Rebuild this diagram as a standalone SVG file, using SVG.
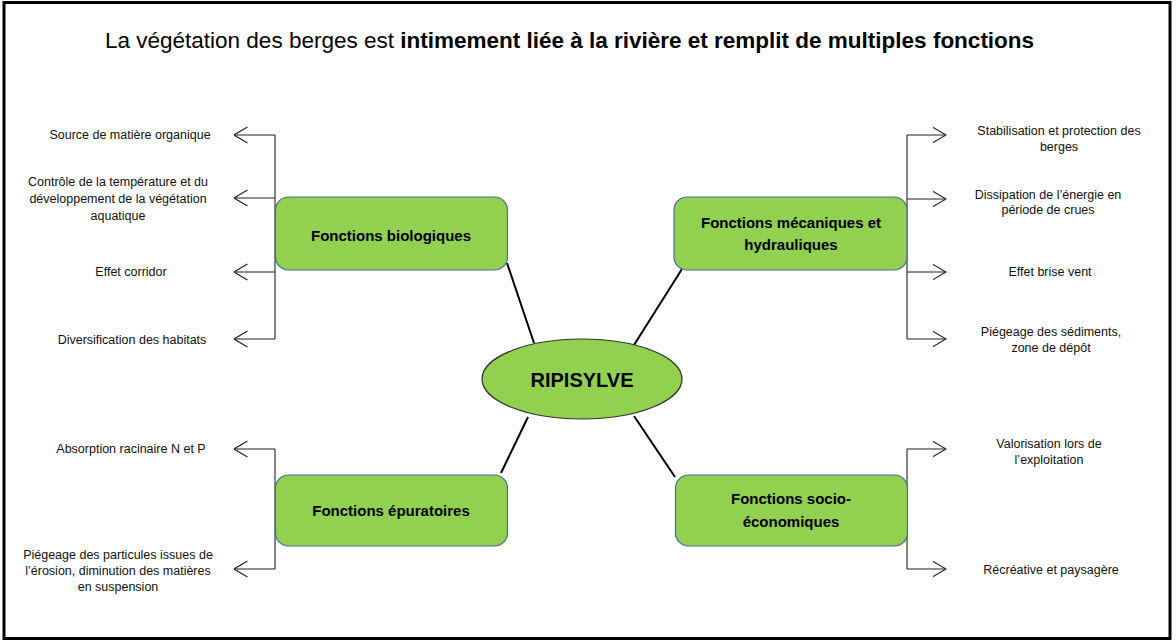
<svg xmlns="http://www.w3.org/2000/svg" width="1176" height="644" viewBox="0 0 1176 644">
<defs>
<style>
.frame{fill:#fff;stroke:#000;stroke-width:3}
.title{font-family:"Liberation Sans",Arial,sans-serif;font-size:22.5px;fill:#000}
.box{fill:#92D050;stroke:#41719C;stroke-width:1.2}
.ell{fill:#92D050;stroke:#333;stroke-width:1.2}
.lbl{font-family:"Liberation Sans",Arial,sans-serif;font-size:15px;font-weight:bold;fill:#000;text-anchor:middle}
.core{font-family:"Liberation Sans",Arial,sans-serif;font-size:20px;font-weight:bold;fill:#000;text-anchor:middle}
.txt{font-family:"Liberation Sans",Arial,sans-serif;font-size:12.5px;fill:#111;text-anchor:middle}
.spoke{stroke:#000;stroke-width:2;fill:none}
.br{stroke:#222;stroke-width:1.1;fill:none}
</style>
<marker id="arr" viewBox="0 0 14 18" refX="13.5" refY="9" markerWidth="14" markerHeight="18" markerUnits="userSpaceOnUse" orient="auto">
<path d="M0,1 L13.5,9 L0,17" fill="none" stroke="#222" stroke-width="1.1"/>
</marker>
</defs>
<rect class="frame" x="4" y="2.5" width="1166" height="636"/>
<text class="title" x="105" y="48">La végétation des berges est <tspan font-weight="bold">intimement liée à la rivière et remplit de multiples fonctions</tspan></text>

<g id="connectors">
<line class="spoke" x1="507" y1="263" x2="534" y2="343"/>
<line class="spoke" x1="682" y1="269" x2="634" y2="345"/>
<line class="spoke" x1="528" y1="417" x2="501" y2="473"/>
<line class="spoke" x1="634" y1="416" x2="675" y2="477"/>
<path class="br" d="M275,135 V339"/>
<path class="br" d="M275,135 H234" marker-end="url(#arr)"/>
<path class="br" d="M275,198 H234" marker-end="url(#arr)"/>
<path class="br" d="M275,272 H234" marker-end="url(#arr)"/>
<path class="br" d="M275,339 H234" marker-end="url(#arr)"/>
<path class="br" d="M275,449 V569"/>
<path class="br" d="M275,449 H234" marker-end="url(#arr)"/>
<path class="br" d="M275,569 H234" marker-end="url(#arr)"/>
<path class="br" d="M907,135 V339"/>
<path class="br" d="M907,135 H946" marker-end="url(#arr)"/>
<path class="br" d="M907,199 H946" marker-end="url(#arr)"/>
<path class="br" d="M907,272 H946" marker-end="url(#arr)"/>
<path class="br" d="M907,339 H946" marker-end="url(#arr)"/>
<path class="br" d="M907,449 V569"/>
<path class="br" d="M907,449 H946" marker-end="url(#arr)"/>
<path class="br" d="M907,569 H946" marker-end="url(#arr)"/>
</g>

<g id="ripisylve">
<ellipse class="ell" cx="582" cy="379" rx="100" ry="40"/>
<text class="core" x="582" y="387">RIPISYLVE</text>
</g>

<g id="bio">
<rect class="box" x="275.5" y="197" width="232" height="73" rx="13"/>
<text class="lbl" x="391" y="241">Fonctions biologiques</text>
</g>

<g id="meca">
<rect class="box" x="674" y="197" width="233" height="73" rx="13"/>
<text class="lbl" x="791" y="228">Fonctions mécaniques et</text>
<text class="lbl" x="791" y="250">hydrauliques</text>
</g>

<g id="epur">
<rect class="box" x="275.5" y="475" width="232" height="71" rx="13"/>
<text class="lbl" x="391" y="516">Fonctions épuratoires</text>
</g>

<g id="socio">
<rect class="box" x="675.5" y="475" width="232" height="71" rx="13"/>
<text class="lbl" x="791" y="504">Fonctions socio-</text>
<text class="lbl" x="791" y="527">économiques</text>
</g>

<g id="bio-items">
<text class="txt" x="130" y="139">Source de matière organique</text>
<text class="txt" x="118" y="186">Contrôle de la température et du</text>
<text class="txt" x="118" y="203">développement de la végétation</text>
<text class="txt" x="118" y="220">aquatique</text>
<text class="txt" x="131" y="276">Effet corridor</text>
<text class="txt" x="132" y="344">Diversification des habitats</text>
</g>

<g id="epur-items">
<text class="txt" x="131" y="453">Absorption racinaire N et P</text>
<text class="txt" x="118" y="559">Piégeage des particules issues de</text>
<text class="txt" x="118" y="575">l’érosion, diminution des matières</text>
<text class="txt" x="118" y="591">en suspension</text>
</g>

<g id="meca-items">
<text class="txt" x="1059" y="135">Stabilisation et protection des</text>
<text class="txt" x="1059" y="151">berges</text>
<text class="txt" x="1048" y="199">Dissipation de l’énergie en</text>
<text class="txt" x="1048" y="214">période de crues</text>
<text class="txt" x="1050" y="276">Effet brise vent</text>
<text class="txt" x="1051" y="336">Piégeage des sédiments,</text>
<text class="txt" x="1051" y="352">zone de dépôt</text>
</g>

<g id="socio-items">
<text class="txt" x="1049" y="448">Valorisation lors de</text>
<text class="txt" x="1049" y="464">l’exploitation</text>
<text class="txt" x="1051" y="574">Récréative et paysagère</text>
</g>
</svg>
